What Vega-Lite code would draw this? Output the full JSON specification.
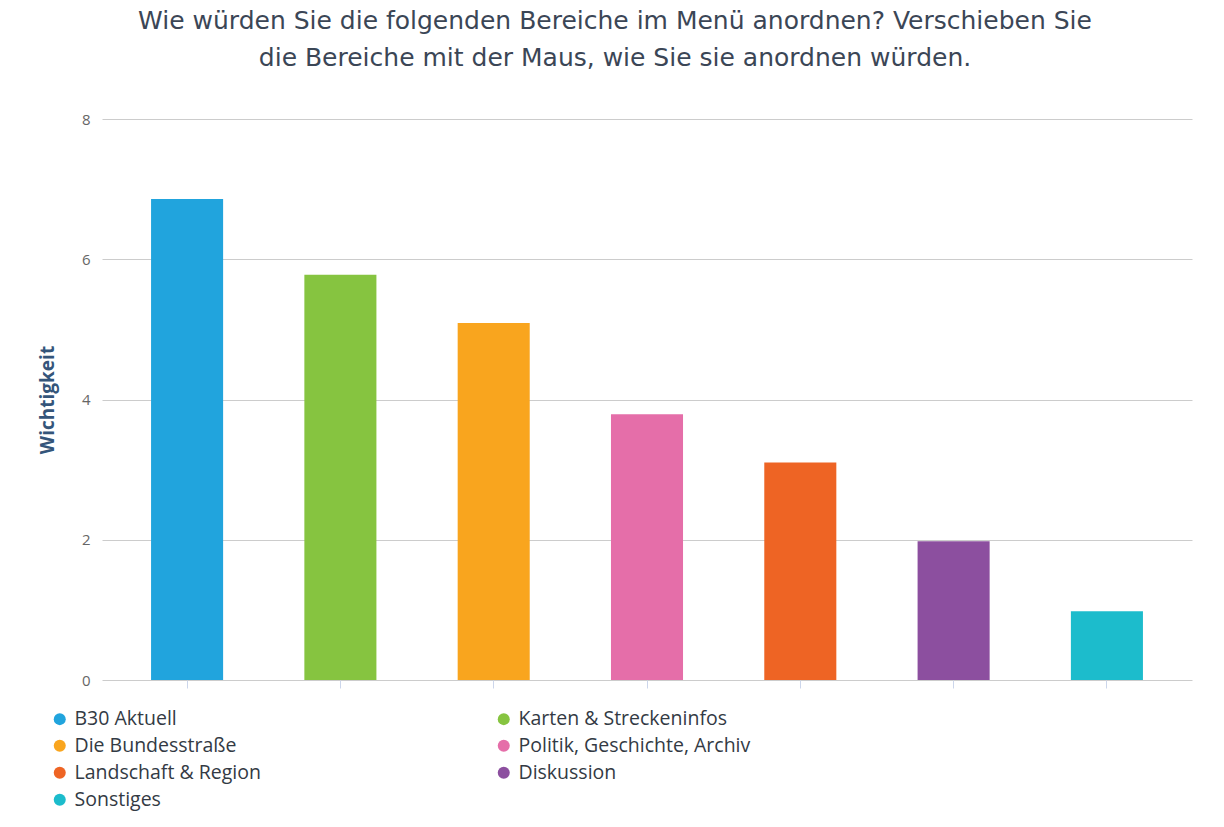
{
  "$schema": "https://vega.github.io/schema/vega-lite/v6.json",
  "width": 1090,
  "height": 561,
  "autosize": "none",
  "padding": {"left": 102, "top": 119, "right": 32, "bottom": 147},
  "background": "white",
  "title": {
    "text": ["Wie würden Sie die folgenden Bereiche im Menü anordnen? Verschieben Sie", "die Bereiche mit der Maus, wie Sie sie anordnen würden."],
    "anchor": "middle",
    "frame": "group",
    "dx": -32,
    "offset": 41,
    "font": "DejaVu Sans",
    "fontSize": 25,
    "fontWeight": "normal",
    "color": "#3b4656",
    "lineHeight": 37
  },
  "data": {
    "values": [
      {"Bereich": "B30 Aktuell", "Wichtigkeit": 6.86},
      {"Bereich": "Karten & Streckeninfos", "Wichtigkeit": 5.78},
      {"Bereich": "Die Bundesstraße", "Wichtigkeit": 5.09},
      {"Bereich": "Politik, Geschichte, Archiv", "Wichtigkeit": 3.79},
      {"Bereich": "Landschaft & Region", "Wichtigkeit": 3.1},
      {"Bereich": "Diskussion", "Wichtigkeit": 1.98},
      {"Bereich": "Sonstiges", "Wichtigkeit": 0.98}
    ]
  },
  "mark": {"type": "bar"},
  "encoding": {
    "x": {
      "field": "Bereich",
      "type": "nominal",
      "sort": null,
      "scale": {"paddingInner": 0.53, "paddingOuter": 0.32},
      "axis": {
        "title": null,
        "labels": false,
        "domain": false,
        "ticks": true,
        "tickSize": 8,
        "tickColor": "#ccd6eb",
        "grid": false
      }
    },
    "y": {
      "field": "Wichtigkeit",
      "type": "quantitative",
      "scale": {"domain": [0, 8], "nice": false},
      "axis": {
        "title": "Wichtigkeit",
        "titleFont": "Open Sans",
        "titleFontSize": 19,
        "titleFontWeight": "bold",
        "titleColor": "#34557a",
        "titlePadding": 24,
        "values": [0, 2, 4, 6, 8],
        "labelFont": "Open Sans",
        "labelFontSize": 15,
        "labelColor": "#666666",
        "labelPadding": 12,
        "domain": false,
        "ticks": false,
        "grid": true,
        "gridColor": "#cccccc",
        "gridWidth": 1
      }
    },
    "color": {
      "field": "Bereich",
      "type": "nominal",
      "scale": {
        "domain": ["B30 Aktuell", "Karten & Streckeninfos", "Die Bundesstraße", "Politik, Geschichte, Archiv", "Landschaft & Region", "Diskussion", "Sonstiges"],
        "range": ["#21a4dd", "#86c440", "#f9a51e", "#e56ea9", "#ee6424", "#8c4f9f", "#1cbccc"]
      },
      "legend": {
        "title": null,
        "orient": "none",
        "legendX": -52,
        "legendY": 590,
        "direction": "horizontal",
        "columns": 2,
        "columnPadding": 233,
        "rowPadding": 6,
        "symbolType": "circle",
        "symbolSize": 144,
        "symbolStrokeWidth": 0,
        "labelFont": "Open Sans",
        "labelFontSize": 19.5,
        "labelColor": "#333a44",
        "labelOffset": 5,
        "labelLimit": 400
      }
    }
  },
  "config": {
    "view": {"stroke": null}
  }
}
